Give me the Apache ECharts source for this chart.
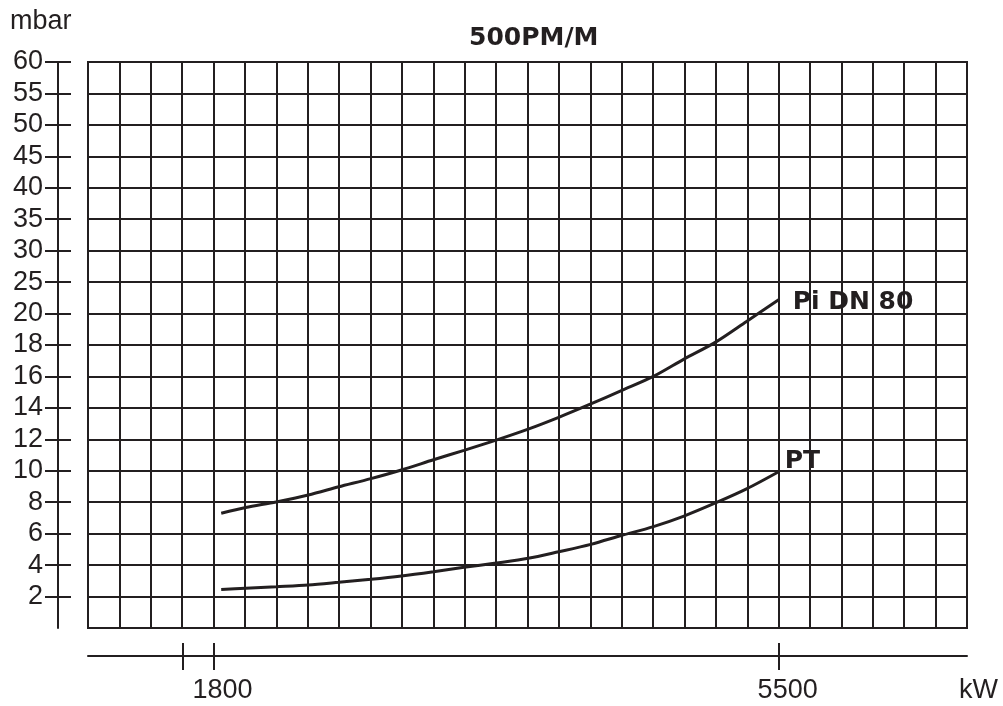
<!DOCTYPE html>
<html>
<head>
<meta charset="utf-8">
<script src="https://cdn.jsdelivr.net/npm/echarts@6/dist/echarts.min.js"></script>
<style>html,body{margin:0;padding:0;background:#fff}#c{width:1003px;height:706px}</style>
</head>
<body>
<div id="c"></div>
<script>
// y tick labels (non-linear pressure scale, one grid row each)
var yLabels = ['', '2', '4', '6', '8', '10', '12', '14', '16', '18', '20', '25', '30', '35', '40', '45', '50', '55', '60'];
// x tick values (kW) and labelled ticks
var xTicks = [1600, 1800, 5500];
var xTickLabels = [1800, 5500];
// series data
var kW = [1850, 2010, 2210, 2420, 2620, 2830, 3030, 3240, 3440, 3650, 3860, 4060, 4270, 4470, 4680, 4880, 5090, 5290, 5500];
var piDN80 = [7.3, 7.66, 8.02, 8.46, 8.98, 9.5, 10.05, 10.7, 11.3, 11.95, 12.65, 13.4, 14.25, 15.1, 16.0, 17.1, 18.2, 19.5, 22.2];
var pt = [2.45, 2.53, 2.63, 2.74, 2.91, 3.1, 3.31, 3.58, 3.86, 4.13, 4.43, 4.85, 5.32, 5.88, 6.45, 7.12, 7.97, 8.85, 9.94];

function toIdx(v) { return v <= 20 ? v / 2 : 10 + (v - 20) / 5; }
function pairs(ys) { return kW.map(function (x, i) { return [x, toIdx(ys[i])]; }); }

var col = (xTicks[2] - xTicks[1]) / 18;   // kW per grid column
var xMin = xTicks[1] - 4 * col, xMax = xTicks[2] + 6 * col;
var INK = '#231f20';
var FONT = 'Liberation Sans';
var yIdx = []; for (var i = 1; i < yLabels.length; i++) yIdx.push(i);

var GL = 88, GR = 36, GT = 62, GB = 78, W = 1003, H = 706;
var gridW = W - GL - GR, gridH = H - GT - GB;

var chart = echarts.init(document.getElementById('c'));
chart.setOption({
  animation: false,
  backgroundColor: '#fff',
  title: [
    { text: '500PM/M', left: 464, top: 21, textStyle: { fontFamily: 'DejaVu Sans', fontWeight: 'bold', fontSize: 25, color: INK } },
    { text: 'mbar', left: 5, top: 3, textStyle: { fontFamily: FONT, fontWeight: 'normal', fontSize: 27, color: INK } },
    { text: 'kW', left: 954, top: 672, textStyle: { fontFamily: FONT, fontWeight: 'normal', fontSize: 27, color: INK } }
  ],
  grid: { left: GL, right: GR, top: GT, bottom: GB, show: true, borderColor: INK, borderWidth: 2, backgroundColor: 'transparent' },
  xAxis: [
    { type: 'value', min: xMin, max: xMax, position: 'bottom', offset: 28,
      axisLine: { show: true, onZero: false, lineStyle: { color: INK, width: 2 } },
      axisTick: { show: true, inside: false, length: 14, customValues: xTicks, lineStyle: { color: INK, width: 2 } },
      axisLabel: { show: true, customValues: xTickLabels, margin: 21, padding: [0, 0, 0, 18], fontFamily: FONT, fontSize: 27, color: INK,
        formatter: function (v) { return String(v); } },
      splitLine: { show: false } },
    { type: 'value', min: xMin, max: xMax, position: 'top', offset: -(gridH + 28),
      axisLine: { show: false, onZero: false },
      axisTick: { show: true, inside: false, length: 13, customValues: xTicks, lineStyle: { color: INK, width: 2 } },
      axisLabel: { show: false }, splitLine: { show: false } },
    { type: 'value', min: 0, max: 28, interval: 1, position: 'top',
      axisLine: { show: false, onZero: false }, axisTick: { show: false }, axisLabel: { show: false },
      splitLine: { show: true, lineStyle: { color: INK, width: 2 } } }
  ],
  yAxis: [
    { type: 'value', min: 0, max: 18, interval: 1, position: 'left', offset: 30,
      axisLine: { show: true, onZero: false, lineStyle: { color: INK, width: 2 } },
      axisTick: { show: true, inside: false, length: 13, customValues: yIdx, lineStyle: { color: INK, width: 2 } },
      axisLabel: { show: true, margin: 15, fontFamily: FONT, fontSize: 27, color: INK,
        formatter: function (v) { return yLabels[Math.round(v)] || ''; } },
      splitLine: { show: true, lineStyle: { color: INK, width: 2 } } },
    { type: 'value', min: 0, max: 18, interval: 1, position: 'right', offset: -(gridW + 30),
      axisLine: { show: false, onZero: false },
      axisTick: { show: true, inside: false, length: 13, customValues: yIdx, lineStyle: { color: INK, width: 2 } },
      axisLabel: { show: false }, splitLine: { show: false } }
  ],
  series: [
    { name: 'Pi DN 80', type: 'line', xAxisIndex: 0, yAxisIndex: 0, data: pairs(piDN80), smooth: 0.3,
      showSymbol: false, lineStyle: { color: INK, width: 3 },
      endLabel: { show: true, formatter: '{a}', offset: [6, 3], fontFamily: 'DejaVu Sans', fontWeight: 'bold', fontSize: 25, color: INK } },
    { name: 'PT', type: 'line', xAxisIndex: 0, yAxisIndex: 0, data: pairs(pt), smooth: 0.3,
      showSymbol: false, lineStyle: { color: INK, width: 3 },
      endLabel: { show: true, formatter: '{a}', offset: [-2, -10], fontFamily: 'DejaVu Sans', fontWeight: 'bold', fontSize: 25, color: INK } }
  ]
});
</script>
</body>
</html>
